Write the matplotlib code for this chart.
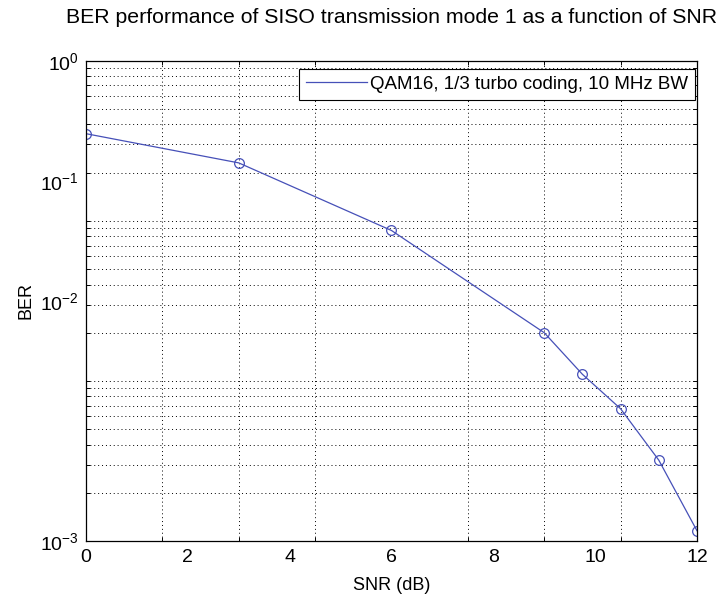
import numpy as np
import matplotlib
matplotlib.use('Agg')
import matplotlib.pyplot as plt
from matplotlib.ticker import FixedLocator, FixedFormatter, NullFormatter

# values
snr_db = [0, 3, 6, 9, 9.75, 10.5, 11.25, 12]
ber = [0.35, 0.23, 0.087, 0.020, 0.011, 0.0067, 0.0032, 0.00116]
x_labels = ['0', '2', '4', '6', '8', '10', '12']
x_label_pos = [0, 2, 4, 6, 8, 10, 12]
x_grid = [1.5, 3, 4.5, 6, 7.5, 9, 10.5]
y_labels = [r'$10^{0}$', r'$10^{-1}$', r'$10^{-2}$', r'$10^{-3}$']
y_label_pos = [1.0, 10 ** -0.75, 10 ** -1.5, 1e-3]
legend_text = 'QAM16, 1/3 turbo coding, 10 MHz BW'

plt.rcParams['font.family'] = ['Liberation Sans', 'DejaVu Sans']
plt.rcParams['mathtext.fontset'] = 'custom'
plt.rcParams['mathtext.rm'] = 'Liberation Sans'
plt.rcParams['mathtext.it'] = 'Liberation Sans:italic'

line_color = '#4650b8'

fig = plt.figure(figsize=(7.2, 6.02), dpi=100)
ax = fig.add_axes([0.1194, 0.1013, 0.8486, 0.7979])

ax.plot(snr_db, ber, '-', color=line_color, lw=0.9, label=legend_text)
ax.plot(snr_db, ber, 'o', color=line_color, mfc='none', ms=7, mew=0.9)

ax.set_yscale('log')
ax.set_xlim(0, 12)
ax.set_ylim(1e-3, 1)

# labels sit at their own spots, grid and tick marks elsewhere
ax.xaxis.set_major_locator(FixedLocator(x_label_pos))
ax.xaxis.set_major_formatter(FixedFormatter(x_labels))
ax.xaxis.set_minor_locator(FixedLocator(x_grid))
ax.xaxis.set_minor_formatter(NullFormatter())

minor_y = []
for k in [-3, -2, -1]:
    for m in range(1, 10):
        v = m * 10.0 ** k
        if 1e-3 < v < 1:
            minor_y.append(v)
ax.yaxis.set_major_locator(FixedLocator(y_label_pos))
ax.yaxis.set_major_formatter(FixedFormatter(y_labels))
ax.yaxis.set_minor_locator(FixedLocator(minor_y))
ax.yaxis.set_minor_formatter(NullFormatter())

ax.tick_params(which='major', length=0, labelsize=14, pad=6)
ax.tick_params(axis='y', which='major', pad=5)
ax.tick_params(which='minor', direction='in', length=3, width=0.7,
               top=True, right=True)
ax.grid(False, which='major')
ax.grid(True, which='minor', linestyle=(0, (1, 3)), color='black', lw=0.7)

for s in ax.spines.values():
    s.set_linewidth(0.9)

ax.set_xlabel('SNR (dB)', fontsize=13, labelpad=8)
ax.set_ylabel('BER', fontsize=13, labelpad=4)
ax.set_title('BER performance of SISO transmission mode 1 as a function of SNR',
             fontsize=15.3, pad=27)

leg = ax.legend(loc='upper right', bbox_to_anchor=(0.9967, 0.982),
                borderaxespad=0, fontsize=13.5, fancybox=False,
                framealpha=1, edgecolor='black', handlelength=3.3,
                handletextpad=0.15, borderpad=0.35)
leg.get_frame().set_linewidth(0.8)

fig.savefig('out.png', dpi=100)
